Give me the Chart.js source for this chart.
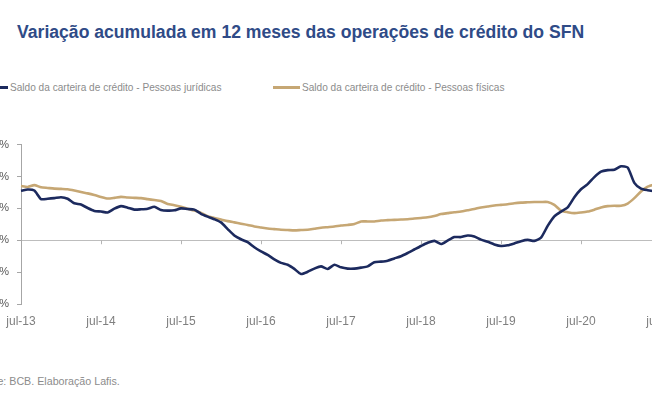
<!DOCTYPE html>
<html>
<head>
<meta charset="utf-8">
<script src="https://cdn.jsdelivr.net/npm/chart.js@4.4.1/dist/chart.umd.min.js"></script>
<style>
  body { margin: 0; width: 652px; height: 408px; overflow: hidden; position: relative; background: #fff; font-family: "Liberation Sans", Arial, sans-serif; }
  #titulo { position: absolute; left: 17px; top: 22px; font-size: 17.6px; font-weight: bold; color: #2f4b87; white-space: nowrap; }
  .leg { position: absolute; top: 82px; font-size: 10.1px; color: #8c8c8c; white-space: nowrap; }
  .leg i { display: inline-block; width: 27px; height: 3px; vertical-align: middle; margin-right: 2px; position: relative; top: -1px; }
  #fonte { position: absolute; left: -24px; top: 375px; font-size: 10.7px; color: #8c8c8c; white-space: nowrap; }
  #caixa { position: absolute; left: -60px; top: 130px; width: 800px; height: 210px; }
</style>
</head>
<body>
<div id="titulo">Variação acumulada em 12 meses das operações de crédito do SFN</div>
<div class="leg" id="leg1" style="left:-19px"></div>
<div class="leg" id="leg2" style="left:273px"></div>
<div id="fonte">Fonte: BCB. Elaboração Lafis.</div>
<div id="caixa"><canvas id="grafico" width="800" height="210"></canvas></div>
<script>
// meses de jul-13 a jul-21
const meses = ['jul', 'ago', 'set', 'out', 'nov', 'dez', 'jan', 'fev', 'mar', 'abr', 'mai', 'jun'];
const anoInicial = 13;
const totalMeses = 97;

const series = ['Saldo da carteira de crédito - Pessoas jurídicas', 'Saldo da carteira de crédito - Pessoas físicas'];

// variação em 12 meses (%), PJ
const pessoasJuridicas = [
  15.5, 15.9, 15.6, 12.9, 13.0, 13.2, 13.5, 13.0, 11.6, 11.2, 10.1, 9.2,
  9.0, 8.7, 9.9, 10.7, 10.2, 9.6, 9.7, 9.9, 10.5, 9.5, 9.3, 9.4,
  10.0, 9.8, 9.6, 8.3, 7.4, 6.6, 5.6, 3.5, 1.5, 0.3, -0.6, -2.2,
  -3.5, -4.6, -6.0, -7.1, -7.7, -9.0, -10.6, -9.9, -8.9, -8.2, -9.0, -7.7,
  -8.5, -8.9, -8.9, -8.6, -8.2, -6.9, -6.7, -6.4, -5.7, -5.0, -4.0, -2.9,
  -1.8, -0.8, -0.2, -1.2, -0.1, 1.0, 1.0, 1.5, 1.2, 0.2, -0.5, -1.3,
  -1.8, -1.6, -1.0, -0.3, 0.1, -0.2, 0.8, 4.5, 7.5, 9.0, 10.3, 13.5,
  16.0, 17.6, 19.8, 21.5, 22.0, 22.1, 23.2, 22.8, 18.0, 16.2, 15.7, 15.4,
  15.1
];

// variação em 12 meses (%), PF
const pessoasFisicas = [
  17.0, 16.7, 17.3, 16.6, 16.4, 16.2, 16.1, 16.0, 15.6, 15.1, 14.7, 14.2,
  13.6, 13.1, 13.3, 13.6, 13.4, 13.3, 13.2, 12.9, 12.6, 12.3, 11.4, 11.0,
  10.5, 9.9, 9.3, 8.6, 7.5, 7.0, 6.5, 6.0, 5.6, 5.2, 4.8, 4.3,
  4.0, 3.7, 3.5, 3.3, 3.2, 3.1, 3.2, 3.3, 3.6, 3.9, 4.1, 4.3,
  4.6, 4.8, 5.1, 5.9, 5.9, 5.9, 6.2, 6.3, 6.4, 6.5, 6.6, 6.8,
  7.0, 7.2, 7.6, 8.2, 8.5, 8.8, 9.0, 9.4, 9.8, 10.3, 10.6, 10.9,
  11.1, 11.3, 11.6, 11.8, 11.9, 12.0, 12.0, 12.0, 11.1, 9.3, 8.8, 8.5,
  8.7, 9.0, 9.6, 10.3, 10.7, 10.8, 10.8, 11.5, 13.2, 15.3, 16.8, 17.5,
  18.0
];

const yTicks = [-20, -10, 0, 10, 20, 30];
const cores = ['#1c2a5e', '#c6a774'];

let labels = [];
for (let i = 0; i < totalMeses; i++) {
    let m = meses[i % 12];
    let ano = anoInicial + Math.floor((i + 6) / 12);
    labels.push(m + '-' + ano);
}

document.getElementById('leg1').innerHTML = '<i style="background:' + cores[0] + '"></i>' + series[0];
document.getElementById('leg2').innerHTML = '<i style="background:' + cores[1] + '"></i>' + series[1];

// pequenas marcas do eixo x sobre a linha do zero
const marcasZero = {
    id: 'marcasZero',
    afterDatasetsDraw(chart) {
        const ctx = chart.ctx;
        const x = chart.scales.x, y = chart.scales.y;
        const y0 = y.getPixelForValue(0);
        ctx.save();
        ctx.strokeStyle = '#b5b5b5';
        ctx.lineWidth = 1;
        for (let i = 12; i < labels.length; i += 12) {
            const px = Math.round(x.getPixelForValue(i)) + 0.5;
            ctx.beginPath();
            ctx.moveTo(px, y0);
            ctx.lineTo(px, y0 + 4);
            ctx.stroke();
        }
        ctx.restore();
    }
};

const ctx = document.getElementById('grafico').getContext('2d');
new Chart(ctx, {
    type: 'line',
    data: {
        labels: labels,
        datasets: [{
            label: series[0],
            data: pessoasJuridicas,
            borderColor: cores[0],
            borderWidth: 2.6,
            pointRadius: 0,
            tension: 0.2,
            order: 1
        }, {
            label: series[1],
            data: pessoasFisicas,
            borderColor: cores[1],
            borderWidth: 2.6,
            pointRadius: 0,
            tension: 0.2,
            order: 2
        }]
    },
    options: {
        responsive: false,
        animation: false,
        layout: { padding: { top: 13, right: 79, bottom: 0, left: 0 } },
        plugins: { legend: { display: false }, tooltip: { enabled: false } },
        scales: {
            x: {
                type: 'category',
                grid: { drawOnChartArea: false, drawTicks: false },
                border: { display: false },
                ticks: {
                    autoSkip: false,
                    maxRotation: 0,
                    padding: 10,
                    color: '#7f7f7f',
                    font: { family: '"Liberation Sans", Arial', size: 12 },
                    callback: (v, i) => (i % 12 === 0 ? labels[i] : null)
                },
                afterFit: s => { s.height = 36; }
            },
            y: {
                min: yTicks[0],
                max: yTicks[yTicks.length - 1],
                afterBuildTicks: s => { s.ticks = yTicks.map(v => ({ value: v })); },
                grid: {
                    color: c => (c.tick && c.tick.value === 0 ? '#bdbdbd' : 'rgba(0,0,0,0)'),
                    tickColor: '#a6a6a6',
                    tickLength: 4
                },
                border: { display: true, color: '#a6a6a6' },
                ticks: {
                    padding: 8,
                    color: '#595959',
                    font: { family: '"Liberation Sans", Arial', size: 11 },
                    callback: v => v + '%'
                },
                afterFit: s => { s.width = 81; }
            }
        }
    },
    plugins: [marcasZero]
});
</script>
</body>
</html>
